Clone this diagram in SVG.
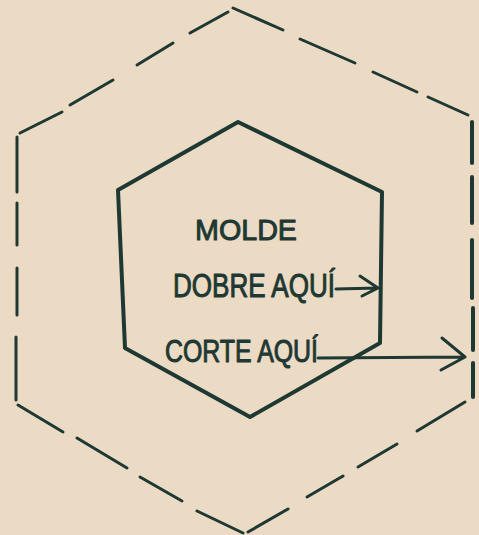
<svg xmlns="http://www.w3.org/2000/svg" width="479" height="535" viewBox="0 0 479 535">
  <style>
    .ink { stroke: #1e3833; fill: none; stroke-linecap: round; stroke-linejoin: round; }
    .dash { stroke-width: 3; }
    .solid { stroke-width: 4; }
    .arrow { stroke-width: 3; }
    .lbl { font-family: "Liberation Sans", "DejaVu Sans", sans-serif; fill: #1e3833; stroke: #1e3833; stroke-width: 1; stroke-linejoin: round; }
  </style>
  <rect width="479" height="535" fill="#ebdac4"/>
  <g id="outer-cut-line" class="ink dash">
    <line x1="20" y1="133" x2="62" y2="112"/>
    <line x1="70" y1="105" x2="113" y2="80"/>
    <line x1="137" y1="65" x2="173" y2="43"/>
    <line x1="190" y1="33" x2="228" y2="12"/>
    <line x1="233" y1="8" x2="283" y2="30"/>
    <line x1="300" y1="39" x2="355" y2="63"/>
    <line x1="373" y1="72" x2="417" y2="92"/>
    <line x1="428" y1="97" x2="468" y2="115"/>
    <line x1="17" y1="137" x2="17" y2="192"/>
    <line x1="17" y1="203" x2="17" y2="245"/>
    <line x1="17" y1="268" x2="17" y2="315"/>
    <line x1="16" y1="337" x2="16" y2="400"/>
    <g stroke-width="4">
      <line x1="472" y1="122" x2="472" y2="163"/>
      <line x1="472" y1="177" x2="472" y2="223"/>
      <line x1="472" y1="240" x2="472" y2="298"/>
      <line x1="473" y1="308" x2="473" y2="350"/>
      <line x1="473" y1="363" x2="473" y2="397"/>
    </g>
    <line x1="18" y1="405" x2="63" y2="432"/>
    <line x1="77" y1="438" x2="127" y2="468"/>
    <line x1="140" y1="477" x2="182" y2="501"/>
    <line x1="197" y1="511" x2="243" y2="533"/>
    <line x1="248" y1="532" x2="288" y2="509"/>
    <line x1="307" y1="497" x2="343" y2="476"/>
    <line x1="358" y1="467" x2="397" y2="444"/>
    <line x1="417" y1="431" x2="465" y2="402"/>
  </g>
  <g id="inner-fold-hexagon" class="ink solid">
    <path d="M238 122 L382 192 L380 343 L250 417 L125 348 L118 190 Z"/>
  </g>
  <g id="labels">
    <text class="lbl" x="195" y="240" font-size="30" textLength="102" lengthAdjust="spacingAndGlyphs">MOLDE</text>
    <text class="lbl" x="173" y="297" font-size="33" textLength="162" lengthAdjust="spacingAndGlyphs">DOBRE AQUÍ</text>
    <text class="lbl" x="165" y="362" font-size="31" textLength="153" lengthAdjust="spacingAndGlyphs">CORTE AQUÍ</text>
  </g>
  <g id="connectors" class="ink arrow">
    <path d="M336 289 L378 288 M360 276 L378 288 L362 296"/>
    <path d="M318 358 L465 357 M442 338 L465 357 L441 370"/>
  </g>
</svg>
